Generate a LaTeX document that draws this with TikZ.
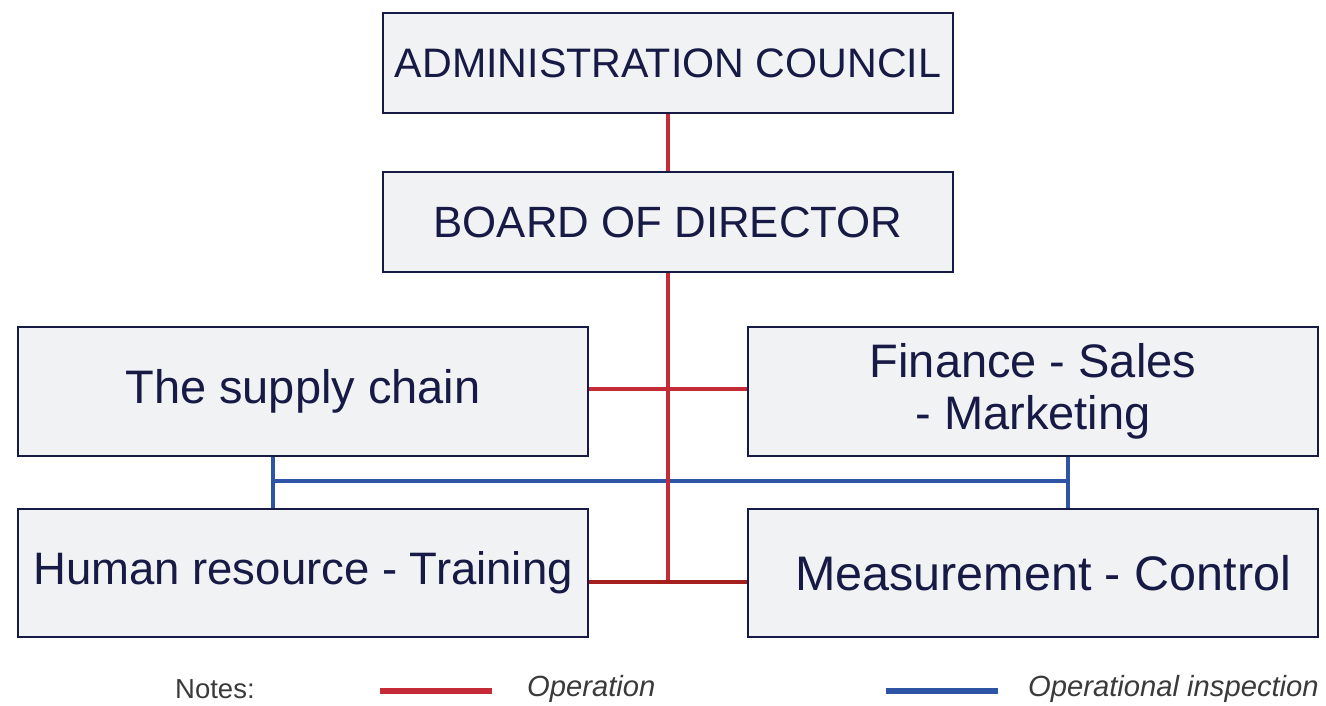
\documentclass[tikz,border=0pt]{standalone}
\usepackage{fontspec}
\setmainfont{Liberation Sans}
\definecolor{navy}{HTML}{161A45}
\definecolor{boxfill}{HTML}{F1F2F4}
\definecolor{opred}{HTML}{C52B36}
\definecolor{opdark}{HTML}{A61F1C}
\definecolor{inspblue}{HTML}{2E55A5}
\definecolor{notegray}{HTML}{3A3A3A}
\begin{document}
\begin{tikzpicture}[x=1pt,y=-1pt,
  orgbox/.style={draw=navy, line width=2.5pt, fill=boxfill, text=navy,
    minimum width=570pt, inner sep=0pt, align=center},
  redline/.style={draw=opred, line width=4.5pt},
  darkline/.style={draw=opdark, line width=4.5pt},
  blueline/.style={draw=inspblue, line width=4.5pt},
  notetext/.style={text=notegray, anchor=west, inner sep=0pt, font=\fontsize{27.5}{32}\selectfont},
  noteital/.style={text=notegray, anchor=west, inner sep=0pt, font=\fontsize{29.2}{34}\selectfont\itshape}
]
\useasboundingbox (0,0) rectangle (1326,706);
\node[orgbox, minimum height=100pt, font=\fontsize{41.2}{48}\selectfont] (admin) at (668,63) {ADMINISTRATION COUNCIL};
\node[orgbox, minimum height=100pt, font=\fontsize{43.8}{50}\selectfont] (board) at (668,222) {BOARD OF DIRECTOR};
\node[orgbox, minimum height=129pt, font=\fontsize{47}{52}\selectfont] (supply) at (303,391.5) {\raisebox{-4pt}{The supply chain}};
\node[orgbox, minimum height=129pt, font=\fontsize{47}{52}\selectfont] (fin) at (1033,391.5) {Finance - Sales\\- Marketing};
\node[orgbox, minimum height=128pt, font=\fontsize{45.5}{52}\selectfont] (hr) at (303,573) {\raisebox{-3pt}{Human resource - Training}};
\node[orgbox, minimum height=128pt, font=\fontsize{48.5}{52}\selectfont] (meas) at (1033,573) {\hspace*{20pt}Measurement - Control};
% blue connectors (operational inspection)
\coordinate (bl) at (273,481);
\coordinate (br) at (1068,481);
\draw[blueline] (supply.south -| bl) -- (hr.north -| bl);
\draw[blueline] (fin.south -| br) -- (meas.north -| br);
\draw[blueline] (bl) -- (br);
% red connectors (operation)
\coordinate (rb) at (668,582);
\draw[redline] (admin.south) -- (board.north);
\draw[redline] (board.south) -- (rb);
\draw[redline] (supply.east |- 0,389) -- (fin.west |- 0,389);
\draw[darkline] (hr.east |- rb) -- (meas.west |- rb);
% notes
\node[notetext] (notes) at (175,689) {Notes:};
\coordinate (r1) at (380,691);
\coordinate (r2) at (492,691);
\draw[draw=opred, line width=6pt] (r1) -- (r2);
\node[noteital] (op) at (527,689) {Operation};
\coordinate (b1) at (886,691);
\coordinate (b2) at (998,691);
\draw[draw=inspblue, line width=6pt] (b1) -- (b2);
\node[noteital] (insp) at (1028,689) {Operational inspection};
\end{tikzpicture}
\end{document}
